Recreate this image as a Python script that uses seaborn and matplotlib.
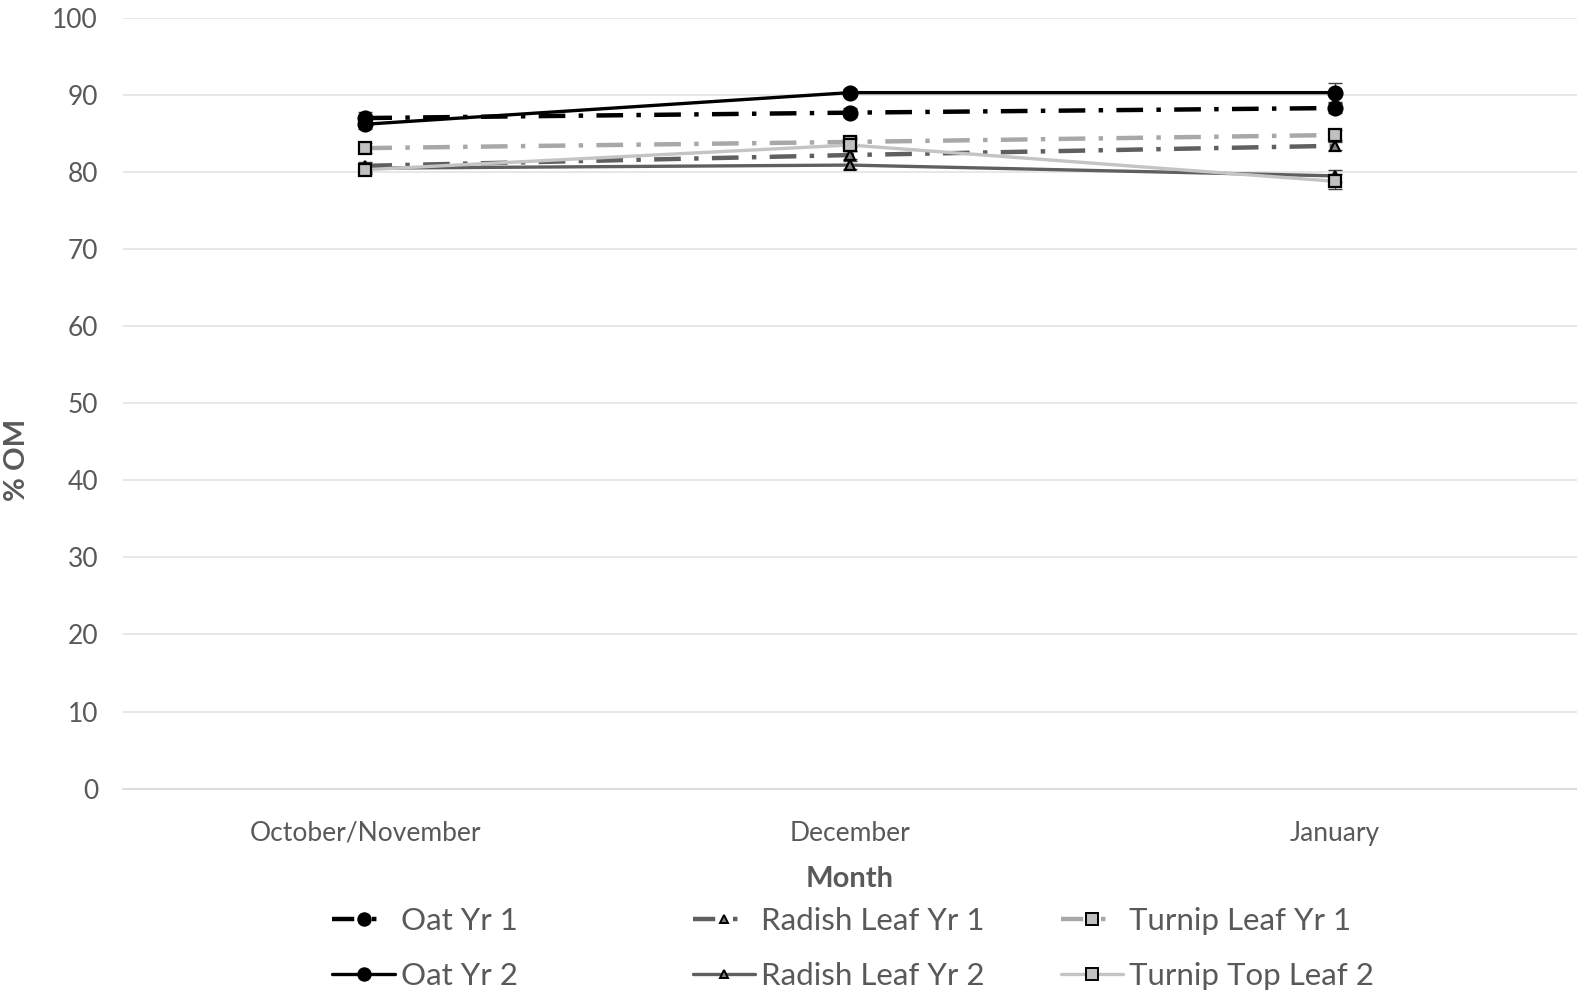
import seaborn as sns
import pandas as pd
import matplotlib.pyplot as plt
from matplotlib.lines import Line2D

months = ["October/November", "December", "January"]
series = ["Oat Yr 1", "Oat Yr 2", "Radish Leaf Yr 1", "Radish Leaf Yr 2",
          "Turnip Leaf Yr 1", "Turnip Top Leaf 2"]
oat_yr1 = [87.0, 87.7, 88.3]
oat_yr2 = [86.2, 90.3, 90.3]
radish_yr1 = [80.8, 82.2, 83.4]
radish_yr2 = [80.5, 80.9, 79.5]
turnip_yr1 = [83.1, 83.9, 84.8]
turnip_yr2 = [80.3, 83.5, 78.8]
oat_yr1_err = [0.8, 0.6, 0.6]
oat_yr2_err = [0.6, 0.5, 1.2]
radish_yr1_err = [0.5, 0.5, 0.5]
radish_yr2_err = [0.5, 0.5, 0.8]
turnip_yr1_err = [0.6, 0.6, 0.6]
turnip_yr2_err = [0.5, 0.8, 1.0]

values = [oat_yr1, oat_yr2, radish_yr1, radish_yr2, turnip_yr1, turnip_yr2]
errs = [oat_yr1_err, oat_yr2_err, radish_yr1_err, radish_yr2_err, turnip_yr1_err, turnip_yr2_err]

dashdot = (0, (6, 3, 1, 3))
styles = {
    "Oat Yr 1": dict(color="black", ls=dashdot, lw=3.2, marker="o", mfc="black", ms=10),
    "Oat Yr 2": dict(color="black", ls="-", lw=2.4, marker="o", mfc="black", ms=10),
    "Radish Leaf Yr 1": dict(color="#5f5f5f", ls=dashdot, lw=3.2, marker="^", mfc="#808080", ms=7),
    "Radish Leaf Yr 2": dict(color="#5f5f5f", ls="-", lw=2.4, marker="^", mfc="#808080", ms=7),
    "Turnip Leaf Yr 1": dict(color="#a8a8a8", ls=dashdot, lw=3.2, marker="s", mfc="#c0c0c0", ms=9),
    "Turnip Top Leaf 2": dict(color="#c4c4c4", ls="-", lw=2.4, marker="s", mfc="#c0c0c0", ms=9),
}

sns.set_theme(style="white")
plt.rcParams["font.family"] = ["Lato", "DejaVu Sans"]

fig, ax = plt.subplots(figsize=(15.77, 9.92), dpi=100)
fig.subplots_adjust(left=0.078, right=1.0, top=0.982, bottom=0.205)

for name, vals, err in zip(series, values, errs):
    st = styles[name]
    df = pd.DataFrame({"Month": months, "OM": vals})
    sns.lineplot(data=df, x="Month", y="OM", ax=ax, color=st["color"], linestyle=st["ls"],
                 linewidth=st["lw"], marker=st["marker"], markersize=st["ms"],
                 markerfacecolor=st["mfc"], markeredgecolor="black", markeredgewidth=1.6,
                 label=name, sort=False, zorder=3)
    ax.errorbar(range(len(months)), vals, yerr=err, fmt="none", ecolor="#404040",
                elinewidth=1, capsize=5, zorder=2)

ax.set_xlim(-0.5, 2.5)
ax.set_ylim(0, 100)
ax.set_yticks(range(0, 101, 10))
ax.yaxis.grid(True, color="#e3e3e3", linewidth=1.2)
for s in ["top", "right", "left"]:
    ax.spines[s].set_visible(False)
ax.spines["bottom"].set_color("#d9d9d9")
ax.tick_params(axis="both", length=0, labelsize=19, colors="#595959")
ax.tick_params(axis="x", pad=23)
ax.tick_params(axis="y", pad=18)
ax.set_ylabel("% OM", fontsize=21, fontweight="bold", color="#595959")
ax.yaxis.set_label_coords(-0.064, 0.426)
ax.set_xlabel("Month", fontsize=21, fontweight="bold", color="#595959", labelpad=15)

if ax.get_legend():
    ax.get_legend().remove()

# legend handles: Excel-style short samples
legend_handles = []
for name in series:
    st = styles[name]
    ls = (0, (5, 4, 1, 12)) if st["ls"] == dashdot else "-"
    legend_handles.append(Line2D([], [], color=st["color"], linestyle=ls, linewidth=st["lw"],
                                 marker=st["marker"], markersize=st["ms"] - 1,
                                 markerfacecolor=st["mfc"], markeredgecolor="black",
                                 markeredgewidth=1.4))

for i, xpos in enumerate([0.2008, 0.4293, 0.6627]):
    fig.legend(legend_handles[2 * i:2 * i + 2], series[2 * i:2 * i + 2], loc="center left",
               bbox_to_anchor=(xpos, 0.044), frameon=False, fontsize=22.5,
               labelcolor="#595959", handlelength=2.0, handletextpad=0.2,
               borderpad=0, labelspacing=0.85)

plt.savefig("out.png", dpi=100)
